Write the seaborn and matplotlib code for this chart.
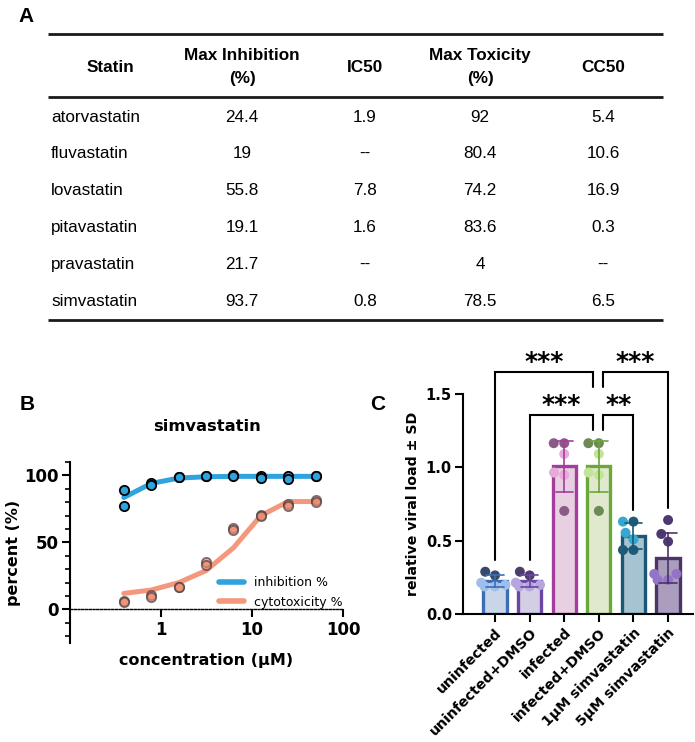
import numpy as np
import pandas as pd
import matplotlib
matplotlib.use("Agg")
import matplotlib.pyplot as plt
import seaborn as sns
from matplotlib.lines import Line2D
from matplotlib.ticker import MultipleLocator, NullLocator

# Panel A table =====================================================================
table_headers = ["Statin", "Max Inhibition\n(%)", "IC50", "Max Toxicity\n(%)", "CC50"]
statins = ["atorvastatin", "fluvastatin", "lovastatin", "pitavastatin", "pravastatin", "simvastatin"]
max_inhibition = ["24.4", "19", "55.8", "19.1", "21.7", "93.7"]
ic50 = ["1.9", "--", "7.8", "1.6", "--", "0.8"]
max_toxicity = ["92", "80.4", "74.2", "83.6", "4", "78.5"]
cc50 = ["5.4", "10.6", "16.9", "0.3", "--", "6.5"]

# Panel B dose response (simvastatin) ===============================================
conc = [0.39, 0.78, 1.56, 3.125, 6.25, 12.5, 25, 50]
inhib_rep1 = [89, 94.5, 99, 99.6, 100.3, 99.7, 99.2, 99.5]
inhib_rep2 = [77, 93, 98.6, 99.2, 99.8, 98.2, 97, 99.2]
inhib_fit = [83.5, 94, 98, 99, 99.3, 99.3, 99.3, 99.3]
cyto_rep1 = [6, 11, 17, 35.5, 60.5, 70.5, 78.5, 81.5]
cyto_rep2 = [5.5, 9, 16.5, 33, 59.5, 70, 77.5, 80.5]
cyto_fit = [12, 14.5, 20, 29, 46, 70, 80.5, 80.5]

# Panel C viral load ================================================================
groups = ["uninfected", "uninfected+DMSO", "infected", "infected+DMSO",
          "1\u00b5M simvastatin", "5\u00b5M simvastatin"]
load_uninf = [0.29, 0.265, 0.215, 0.2, 0.19, 0.19]
load_uninf_dmso = [0.29, 0.265, 0.215, 0.2, 0.19, 0.19]
load_inf = [1.165, 1.165, 1.092, 0.965, 0.949, 0.704]
load_inf_dmso = [1.165, 1.165, 1.092, 0.965, 0.949, 0.704]
load_simva1 = [0.631, 0.631, 0.555, 0.51, 0.438, 0.438]
load_simva5 = [0.642, 0.547, 0.495, 0.275, 0.275, 0.234, 0.234]
tone_uninf = ["d", "d", "l", "l", "l", "l"]
tone_uninf_dmso = ["d", "d", "l", "l", "l", "l"]
tone_inf = ["d", "d", "l", "l", "l", "d"]
tone_inf_dmso = ["d", "d", "l", "l", "l", "d"]
tone_simva1 = ["d", "l", "l", "l", "d", "d"]
tone_simva5 = ["d", "d", "d", "l", "l", "l", "l"]
comparisons = [(0, 3, "***", 1.65), (3, 5, "***", 1.65), (1, 3, "***", 1.357), (3, 4, "**", 1.357)]

bar_fill = ["#c3d5ef", "#d2cae8", "#eccbe3", "#e1edc9", "#9fc5d9", "#a997c4"]
bar_edge = ["#3d6db3", "#6a47a6", "#a43d9c", "#6aa83a", "#1b5876", "#4a3566"]
dot_dark = ["#374a6a", "#4b3e69", "#8a5b86", "#6d8a56", "#1d5b77", "#4d3a72"]
dot_light = ["#9dbfe9", "#b7a6dd", "#e8aad8", "#c3e39b", "#35a8d0", "#9474c8"]

sns.set_style("white")
plt.rcParams["font.family"] = ["DejaVu Sans"]
plt.rcParams.update({"text.color": "black", "axes.labelcolor": "black",
                     "xtick.color": "black", "ytick.color": "black",
                     "axes.edgecolor": "black"})

W, H = 695, 742
fig = plt.figure(figsize=(W / 100, H / 100), dpi=100)

# ---- panel A
axt = fig.add_axes([0, 0, 1, 1], zorder=-1)
axt.set_xlim(0, W)
axt.set_ylim(H, 0)
axt.axis("off")

col_x = [110, 242, 365, 480, 603]
tab_left, tab_right = 48, 663
row_y0, row_dy = 117, 36.8
tfont = ["Liberation Sans", "DejaVu Sans"]
axt.hlines([34, 97], tab_left, tab_right, color="#1a1a1a", lw=2)
axt.hlines(row_y0 + 5 * row_dy + 18.5, tab_left, tab_right, color="#1a1a1a", lw=2)
for cx, h in zip(col_x, table_headers):
    axt.text(cx, 67, h, ha="center", va="center", fontsize=12.3, fontweight="bold",
             family=tfont, multialignment="center", linespacing=1.6)
columns = [max_inhibition, ic50, max_toxicity, cc50]
for i, name in enumerate(statins):
    y = row_y0 + i * row_dy
    axt.text(51, y, name, ha="left", va="center", fontsize=12.3, family=tfont)
    for cx, col in zip(col_x[1:], columns):
        axt.text(cx, y, col[i], ha="center", va="center", fontsize=12.3, family=tfont)

for lab, (px, py) in zip(["A", "B", "C"], [(26, 16), (27, 404), (378, 404)]):
    axt.text(px, py, lab, ha="center", va="center", fontsize=15, fontweight="bold",
             family=tfont)

# ---- panel B
def px_box(left, top, right, bottom):
    return [left / W, 1 - bottom / H, (right - left) / W, (bottom - top) / H]

axb = fig.add_axes(px_box(70, 462, 343, 643))
fit_df = pd.DataFrame({
    "conc": conc * 2,
    "percent": inhib_fit + cyto_fit,
    "series": ["inhibition %"] * len(conc) + ["cytotoxicity %"] * len(conc),
})
line_pal = {"inhibition %": "#2ea3dd", "cytotoxicity %": "#f5977c"}
sns.lineplot(data=fit_df, x="conc", y="percent", hue="series", palette=line_pal,
             lw=3.6, legend=False, ax=axb, zorder=2)
inh_df = pd.DataFrame({"conc": conc * 2, "percent": inhib_rep1 + inhib_rep2})
cyt_df = pd.DataFrame({"conc": conc * 2, "percent": cyto_rep1 + cyto_rep2})
sns.scatterplot(data=cyt_df, x="conc", y="percent", color="#ef8a70", edgecolor="#4a4040",
                linewidth=1.3, s=45, alpha=0.7, ax=axb, zorder=3)
sns.scatterplot(data=inh_df, x="conc", y="percent", color="#2ea3dd", edgecolor="black",
                linewidth=1.3, s=45, ax=axb, zorder=4)
axb.set_xscale("log")
axb.set_xlim(0.1, 100)
axb.set_ylim(-25, 110)
axb.spines["top"].set_visible(False)
axb.spines["right"].set_visible(False)
axb.spines["left"].set_linewidth(1.5)
axb.spines["bottom"].set_position(("data", 0))
axb.spines["bottom"].set_linewidth(1.0)
axb.spines["bottom"].set_linestyle((0, (1.5, 1.2)))
axb.set_xticks([1, 10, 100])
axb.set_xticklabels(["1", "10", "100"])
axb.xaxis.set_minor_locator(NullLocator())
axb.set_yticks([0, 50, 100])
axb.yaxis.set_minor_locator(MultipleLocator(10))
axb.tick_params(axis="both", which="major", direction="out", length=6, width=1.5,
                labelsize=12, pad=2, bottom=True, left=True)
axb.tick_params(axis="y", which="minor", direction="out", length=3.5, width=1.2, left=True)
for t in axb.get_xticklabels() + axb.get_yticklabels():
    t.set_fontweight("bold")
axb.set_xlabel("concentration (\u00b5M)", fontsize=11.5, fontweight="bold")
axb.xaxis.set_label_coords(0.5, -0.055)
axb.set_ylabel("percent (%)", fontsize=11.5, fontweight="bold")
axb.yaxis.set_label_coords(-0.18, 0.5)
axb.set_title("simvastatin", fontsize=11.8, fontweight="bold", pad=22)
handles = [Line2D([], [], color=line_pal[k], lw=4) for k in line_pal]
axb.legend(handles, list(line_pal), loc="lower right", bbox_to_anchor=(1.0, 0.19),
           frameon=False, fontsize=9, handlelength=2.0, handletextpad=0.8,
           borderaxespad=0, borderpad=0, labelspacing=0.5)

# ---- panel C
axc = fig.add_axes(px_box(463, 394, 693, 614.3))
loads = [load_uninf, load_uninf_dmso, load_inf, load_inf_dmso, load_simva1, load_simva5]
tones = [tone_uninf, tone_uninf_dmso, tone_inf, tone_inf_dmso, tone_simva1, tone_simva5]
rows = []
for g, vals, tns in zip(groups, loads, tones):
    for v, t in zip(vals, tns):
        rows.append({"group": g, "load": v, "key": g + "|" + t})
df_c = pd.DataFrame(rows)
dot_pal = {}
for g, dk, lt in zip(groups, dot_dark, dot_light):
    dot_pal[g + "|d"] = dk
    dot_pal[g + "|l"] = lt

sns.barplot(data=df_c, x="group", y="load", hue="group", order=groups, hue_order=groups,
            palette=dict(zip(groups, bar_fill)), errorbar="sd", capsize=0.5, width=0.67,
            err_kws={"linewidth": 1.2}, legend=False, ax=axc)
n_err = len(axc.lines)
for p in axc.patches:
    idx = int(round(p.get_x() + p.get_width() / 2))
    p.set_edgecolor(bar_edge[idx])
    p.set_linewidth(2.4)
for ln in axc.lines[:n_err]:
    idx = int(round(np.nanmean(ln.get_xdata())))
    ln.set_color(bar_edge[idx])
    ln.set_zorder(5)
sns.swarmplot(data=df_c, x="group", y="load", hue="key", order=groups, palette=dot_pal,
              size=7.2, legend=False, ax=axc, zorder=4)

axc.set_xlim(-0.925, 5.72)
axc.set_ylim(0, 1.5)
axc.set_yticks([0, 0.5, 1.0, 1.5])
axc.set_yticklabels(["0.0", "0.5", "1.0", "1.5"])
axc.spines["top"].set_visible(False)
axc.spines["right"].set_visible(False)
for s in ["left", "bottom"]:
    axc.spines[s].set_linewidth(1.5)
axc.tick_params(axis="both", direction="out", length=6, width=1.5, labelsize=10.5,
                pad=2, bottom=True, left=True)
axc.set_xticks(range(len(groups)))
axc.set_xticklabels(groups, rotation=45, ha="right", rotation_mode="anchor",
                    fontsize=10.2)
for t in axc.get_xticklabels() + axc.get_yticklabels():
    t.set_fontweight("bold")
axc.set_xlabel("")
axc.set_ylabel("relative viral load \u00b1 SD", fontsize=10.2, fontweight="bold")

# significance brackets
tops = df_c.groupby("group")["load"].max()
for a, b, label, y in comparisons:
    xa = a + 0.12 if a == 3 else a
    xb = b - 0.17 if b == 3 else b
    ya = y - 0.1 if a == 3 else tops[groups[a]] + 0.08
    yb = y - 0.1 if b == 3 else tops[groups[b]] + 0.08
    axc.plot([xa, xa, xb, xb], [ya, y, y, yb], color="black", lw=1.5, clip_on=False,
             solid_joinstyle="miter")
    axc.text((xa + xb) / 2, y + 0.07, label, ha="center", va="center", fontsize=18,
             fontweight="bold", clip_on=False)

fig.savefig("out.png", dpi=100)
